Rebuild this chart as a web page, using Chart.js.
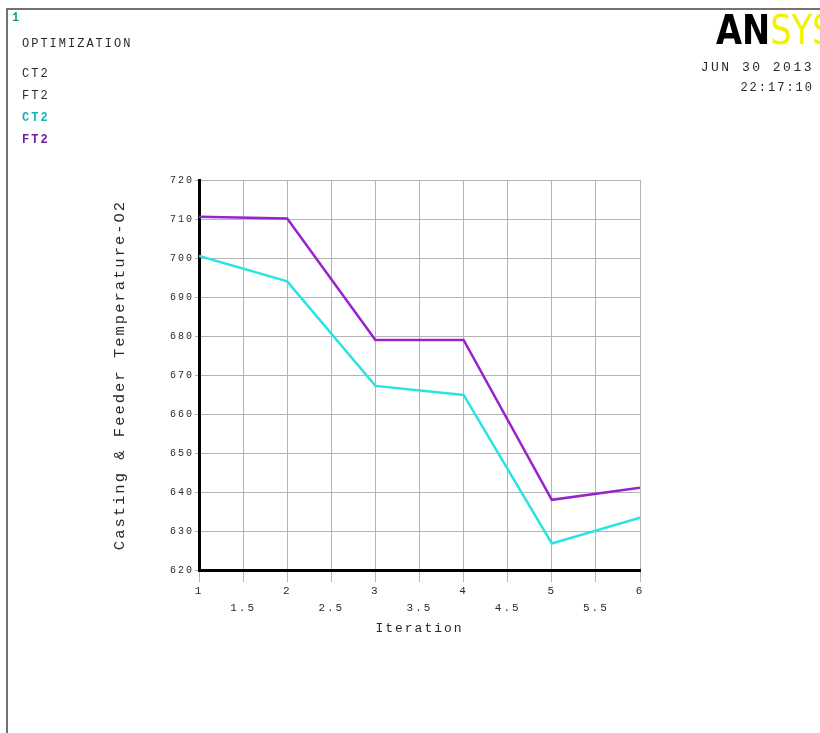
<!DOCTYPE html>
<html>
<head>
<meta charset="utf-8">
<script src="https://cdn.jsdelivr.net/npm/chart.js@4"></script>
<style>
html, body { margin: 0; padding: 0; background: #fff; }
</style>
</head>
<body>
<canvas id="graph" width="820" height="733"></canvas>
<script>
// values
const iterations = [1, 2, 3, 4, 5, 6];
const ct2 = [700.5, 694.0, 667.2, 664.9, 626.8, 633.4];
const ft2 = [710.6, 710.1, 679.0, 679.0, 638.0, 641.1];
const xTicks = [1, 1.5, 2, 2.5, 3, 3.5, 4, 4.5, 5, 5.5, 6];
const xTickLabels = ['1', '1.5', '2', '2.5', '3', '3.5', '4', '4.5', '5', '5.5', '6'];
const yTickLabels = ['620', '630', '640', '650', '660', '670', '680', '690', '700', '710', '720'];

const mono = 'Liberation Mono';
const textColor = '#2a2a2a';

// ANSYS style header texts + frame
const ansysText = {
    id: 'ansysText',
    beforeDraw(chart) {
        chart.ctx.letterSpacing = '2px';
    },
    afterDraw(chart) {
        const ctx = chart.ctx;
        ctx.save();
        // frame
        ctx.strokeStyle = '#444';
        ctx.lineWidth = 1.5;
        ctx.beginPath();
        ctx.moveTo(7, 733);
        ctx.lineTo(7, 9);
        ctx.lineTo(820, 9);
        ctx.stroke();

        ctx.textBaseline = 'middle';
        ctx.textAlign = 'left';
        ctx.fillStyle = '#16a08e';
        ctx.font = 'bold 12px ' + mono;
        ctx.fillText('1', 12, 18);

        ctx.font = '12px ' + mono;
        ctx.fillStyle = textColor;
        ctx.fillText('OPTIMIZATION', 22, 44);
        ctx.fillText('CT2', 22, 74);
        ctx.fillText('FT2', 22, 96);
        ctx.font = 'bold 12px ' + mono;
        ctx.fillStyle = '#18b4b4';
        ctx.fillText('CT2', 22, 118);
        ctx.fillStyle = '#6a1fa0';
        ctx.fillText('FT2', 22, 140);

        // date / time
        ctx.fillStyle = textColor;
        ctx.textAlign = 'right';
        ctx.font = '13px ' + mono;
        ctx.letterSpacing = '2.5px';
        ctx.fillText('JUN 30 2013', 814, 68);
        ctx.font = '12px ' + mono;
        ctx.letterSpacing = '2px';
        ctx.fillText('22:17:10', 814, 88);

        // logo
        ctx.letterSpacing = '0px';
        ctx.textAlign = 'left';
        ctx.textBaseline = 'alphabetic';
        ctx.save();
        ctx.translate(716, 44);
        ctx.scale(0.82, 1);
        ctx.font = 'bold 41px "DejaVu Sans"';
        ctx.fillStyle = '#000';
        ctx.fillText('AN', 0, 0);
        const w = ctx.measureText('AN').width;
        ctx.fillStyle = '#f2f200';
        ctx.font = '41px "DejaVu Sans"';
        ctx.fillText('SYS', w, 0);
        ctx.restore();
        ctx.restore();
    }
};

new Chart(document.getElementById('graph'), {
    type: 'line',
    data: {
        datasets: [
            {
                label: 'CT2',
                data: iterations.map((x, i) => ({ x: x, y: ct2[i] })),
                borderColor: '#2be3e3',
                borderWidth: 2.5,
                pointRadius: 0,
                tension: 0
            },
            {
                label: 'FT2',
                data: iterations.map((x, i) => ({ x: x, y: ft2[i] })),
                borderColor: '#9722cf',
                borderWidth: 2.5,
                pointRadius: 0,
                tension: 0
            }
        ]
    },
    options: {
        responsive: false,
        animation: false,
        layout: { padding: { top: 180, right: 180, left: 0, bottom: 0 } },
        plugins: {
            legend: { display: false },
            tooltip: { enabled: false }
        },
        scales: {
            x: {
                type: 'linear',
                min: 1,
                max: 6,
                afterBuildTicks: scale => {
                    scale.ticks = xTicks.map(v => ({ value: v }));
                },
                afterFit: scale => { scale.height = 163; },
                ticks: {
                    autoSkip: false,
                    maxRotation: 0,
                    padding: 0,
                    color: textColor,
                    font: { family: mono, size: 11, lineHeight: 1.6 },
                    callback: (v, i) => Number.isInteger(v) ? xTickLabels[i] : ['', xTickLabels[i]]
                },
                grid: { color: '#b4b4b4', lineWidth: 1, tickLength: 12 },
                border: { color: '#000', width: 3 },
                title: {
                    display: true,
                    text: 'Iteration',
                    color: textColor,
                    font: { family: mono, size: 13, lineHeight: 1.2 },
                    padding: { top: 0, bottom: 97 }
                }
            },
            y: {
                min: 620,
                max: 720,
                afterBuildTicks: scale => {
                    scale.ticks = yTickLabels.map(v => ({ value: Number(v) }));
                },
                afterFit: scale => { scale.width = 199; },
                ticks: {
                    padding: 1,
                    color: textColor,
                    font: { family: mono, size: 10 },
                    callback: (v, i) => yTickLabels[i]
                },
                grid: { color: '#b4b4b4', lineWidth: 1, tickLength: 4 },
                border: { color: '#000', width: 3 },
                title: {
                    display: true,
                    text: 'Casting & Feeder Temperature-O2',
                    color: textColor,
                    font: { family: mono, size: 15.5, lineHeight: 1.2 },
                    padding: { top: 111, bottom: 0 }
                }
            }
        }
    },
    plugins: [ansysText]
});
</script>
</body>
</html>
